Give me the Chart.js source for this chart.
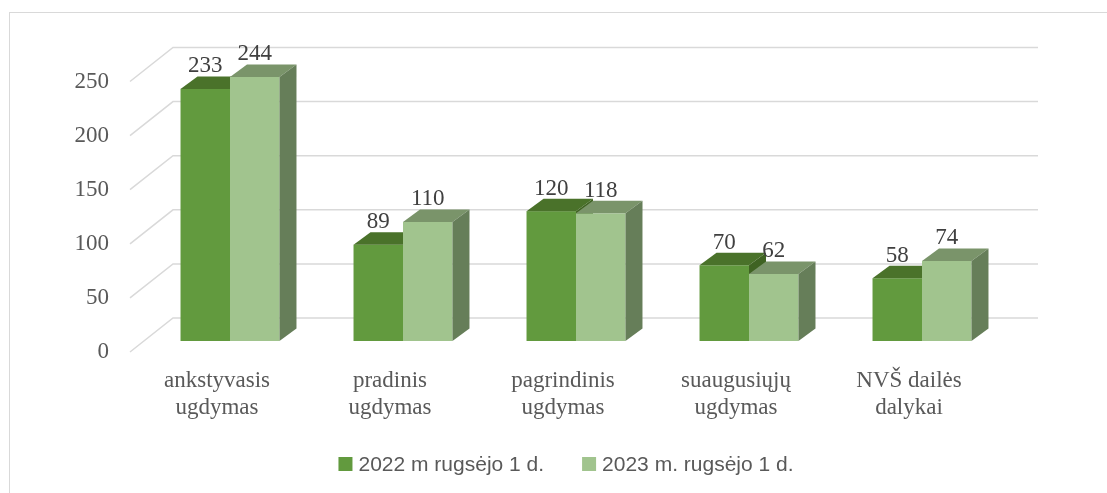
<!DOCTYPE html>
<html>
<head>
<meta charset="utf-8">
<script src="https://cdn.jsdelivr.net/npm/chart.js@4.4.1/dist/chart.umd.min.js"></script>
<style>
  html, body { margin: 0; padding: 0; background: #fff; }
  #wrap { position: relative; width: 1107px; height: 493px; overflow: hidden; }
  #frame { position: absolute; left: 9px; top: 12px; width: 1200px; height: 600px;
           border-left: 1.5px solid #D9D9D9; border-top: 1.5px solid #D9D9D9; box-sizing: border-box; }
  canvas { position: absolute; left: 0; top: 0; }
</style>
</head>
<body>
<div id="wrap">
  <div id="frame"></div>
  <canvas id="c" width="1107" height="493"></canvas>
</div>
<script>
// ---- data ----
const categories = [
  ['ankstyvasis', 'ugdymas'],
  ['pradinis', 'ugdymas'],
  ['pagrindinis', 'ugdymas'],
  ['suaugusiųjų', 'ugdymas'],
  ['NVŠ dailės', 'dalykai']
];
const seriesNames = ['2022 m rugsėjo 1 d.', '2023 m. rugsėjo 1 d.'];
const values2022 = [233, 89, 120, 70, 58];
const values2023 = [244, 110, 118, 62, 74];
const yTicks = [0, 50, 100, 150, 200, 250];

// ---- styling ----
const faceColors = [
  { front: '#629A3E', top: '#4A722A', side: '#3F6322' },
  { front: '#A1C48E', top: '#7A946A', side: '#667E59' }
];
const DEPTH_X = 17, DEPTH_Y = 12.5;
const SERIF = '"Liberation Serif", "Times New Roman", serif';
const SANS = '"Liberation Sans", Arial, sans-serif';

const threeD = {
  id: 'threeD',
  beforeDatasetsDraw(chart) {
    const ctx = chart.ctx;
    const ys = chart.scales.y;
    const area = chart.chartArea;
    // 3D walls grid
    ctx.save();
    ctx.strokeStyle = '#D9D9D9';
    ctx.lineWidth = 1.5;
    ys.ticks.forEach(t => {
      const y = ys.getPixelForValue(t.value);
      ctx.beginPath();
      ctx.moveTo(area.left - 13.5, y + 11);
      ctx.lineTo(area.left + 29.5, y - 23);
      ctx.lineTo(area.right + 29.5, y - 23);
      ctx.stroke();
    });
    ctx.restore();

    // bars, drawn per category so overlap is correct
    const n = chart.data.labels.length;
    for (let i = 0; i < n; i++) {
      chart.data.datasets.forEach((ds, d) => {
        const bar = chart.getDatasetMeta(d).data[i];
        const c = faceColors[d];
        const w = bar.width;
        const l = bar.x - w / 2, r = bar.x + w / 2, top = bar.y, base = bar.base;
        ctx.save();
        ctx.fillStyle = c.front;
        ctx.fillRect(l, top, w, base - top);
        ctx.fillStyle = c.top;
        ctx.beginPath();
        ctx.moveTo(l, top);
        ctx.lineTo(r, top);
        ctx.lineTo(r + DEPTH_X, top - DEPTH_Y);
        ctx.lineTo(l + DEPTH_X, top - DEPTH_Y);
        ctx.closePath();
        ctx.fill();
        ctx.fillStyle = c.side;
        ctx.beginPath();
        ctx.moveTo(r, top);
        ctx.lineTo(r + DEPTH_X, top - DEPTH_Y);
        ctx.lineTo(r + DEPTH_X, base - DEPTH_Y);
        ctx.lineTo(r, base);
        ctx.closePath();
        ctx.fill();
        ctx.restore();
      });
    }
    // value labels
    ctx.save();
    ctx.font = '23px ' + SERIF;
    ctx.fillStyle = '#404040';
    ctx.textAlign = 'center';
    ctx.textBaseline = 'alphabetic';
    chart.data.datasets.forEach((ds, d) => {
      chart.getDatasetMeta(d).data.forEach((bar, i) => {
        ctx.fillText(String(ds.data[i]), bar.x, bar.y - DEPTH_Y - 4);
      });
    });
    ctx.restore();
    return false;
  },
  afterDraw(chart) {
    const ctx = chart.ctx;
    ctx.save();
    ctx.font = '21px ' + SANS;
    const box = 14, gapText = 6, gapItem = 38;
    const items = chart.data.datasets.map((ds, d) => ({
      text: ds.label, color: faceColors[d].front, w: ctx.measureText(ds.label).width
    }));
    let total = items.reduce((s, it) => s + box + gapText + it.w, 0) + gapItem * (items.length - 1);
    let x = 566 - total / 2;
    const cy = 464;
    ctx.textBaseline = 'middle';
    ctx.textAlign = 'left';
    items.forEach(it => {
      ctx.fillStyle = it.color;
      ctx.fillRect(x, cy - 7, box, box);
      ctx.fillStyle = '#595959';
      ctx.fillText(it.text, x + box + gapText, cy + 1);
      x += box + gapText + it.w + gapItem;
    });
    ctx.restore();
  }
};

new Chart(document.getElementById('c'), {
  type: 'bar',
  data: {
    labels: categories,
    datasets: [
      { label: seriesNames[0], data: values2022, backgroundColor: faceColors[0].front },
      { label: seriesNames[1], data: values2023, backgroundColor: faceColors[1].front }
    ]
  },
  options: {
    responsive: false,
    animation: false,
    events: [],
    layout: { padding: { left: 0, right: 98.5, top: 70.5, bottom: 52 } },
    plugins: { legend: { display: false }, tooltip: { enabled: false } },
    datasets: { bar: { categoryPercentage: 0.572, barPercentage: 1.0 } },
    scales: {
      x: {
        grid: { display: false, drawTicks: false },
        border: { display: false },
        ticks: {
          font: { family: SERIF, size: 23, lineHeight: 1.2 },
          color: '#595959',
          padding: 26,
          labelOffset: -13,
          maxRotation: 0, minRotation: 0,
          autoSkip: false
        },
        afterFit(s) { s.height = 100; }
      },
      y: {
        min: yTicks[0],
        max: yTicks[yTicks.length - 1],
        afterBuildTicks(s) { s.ticks = yTicks.map(v => ({ value: v })); },
        grid: { display: false, drawTicks: false },
        border: { display: false },
        ticks: {
          font: { family: SERIF, size: 23 },
          color: '#595959',
          padding: 34.5,
          labelOffset: 11
        },
        afterFit(s) { s.width = 143.5; }
      }
    }
  },
  plugins: [threeD]
});
</script>
</body>
</html>
